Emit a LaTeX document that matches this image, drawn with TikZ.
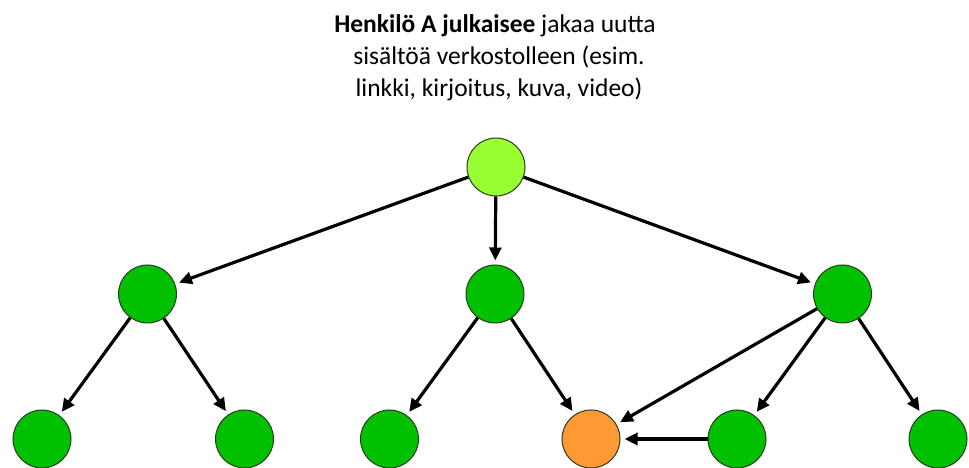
\documentclass[tikz,border=0pt]{standalone}
\usepackage{fontspec}
\setmainfont{Carlito}
\usetikzlibrary{arrows.meta}
\definecolor{topgreen}{HTML}{99FF33}
\definecolor{nodegreen}{HTML}{00C000}
\definecolor{nodeorange}{HTML}{FF9933}
\definecolor{rimcol}{HTML}{2A3A20}
\begin{document}
\begin{tikzpicture}[x=1pt,y=1pt,
  person/.style={circle, draw=rimcol, line width=1pt, minimum size=58pt, inner sep=0pt, fill=nodegreen},
  seed/.style={person, fill=topgreen},
  target/.style={person, fill=nodeorange},
  capline/.style={anchor=base, inner sep=0pt, font=\fontsize{25.5}{32}\selectfont},
  share/.style={-{Triangle[length=13pt,width=12pt]}, line width=3.2pt, black, shorten >=4pt}]
\useasboundingbox (0,0) rectangle (969,468);
\node[capline] (cap1) at (495,435) {\textbf{Henkilö A julkaisee} jakaa uutta};
\node[capline] (cap2) at (499,403) {sisältöä verkostolleen (esim.};
\node[capline] (cap3) at (499,371) {linkki, kirjoitus, kuva, video)};
\node[seed] (a) at (496,301) {};
\node[person] (m1) at (147.5,174) {};
\node[person] (m2) at (495,174) {};
\node[person] (m3) at (842.5,174) {};
\node[person] (b1) at (42,29) {};
\node[person] (b2) at (244.5,29) {};
\node[person] (b3) at (389.5,29) {};
\node[target] (b4) at (591,29) {};
\node[person] (b5) at (737,29) {};
\node[person] (b6) at (938,29) {};
\draw[share] (a) -- (m1);
\draw[share] (a) -- (m2);
\draw[share] (a) -- (m3);
\draw[share] (m1) -- (b1);
\draw[share] (m1) -- (b2);
\draw[share] (m2) -- (b3);
\draw[share] (m2) -- (b4);
\draw[share] (m3) -- (b4);
\draw[share] (m3) -- (b5);
\draw[share] (m3) -- (b6);
\draw[share] (b5) -- (b4);
\end{tikzpicture}
\end{document}
